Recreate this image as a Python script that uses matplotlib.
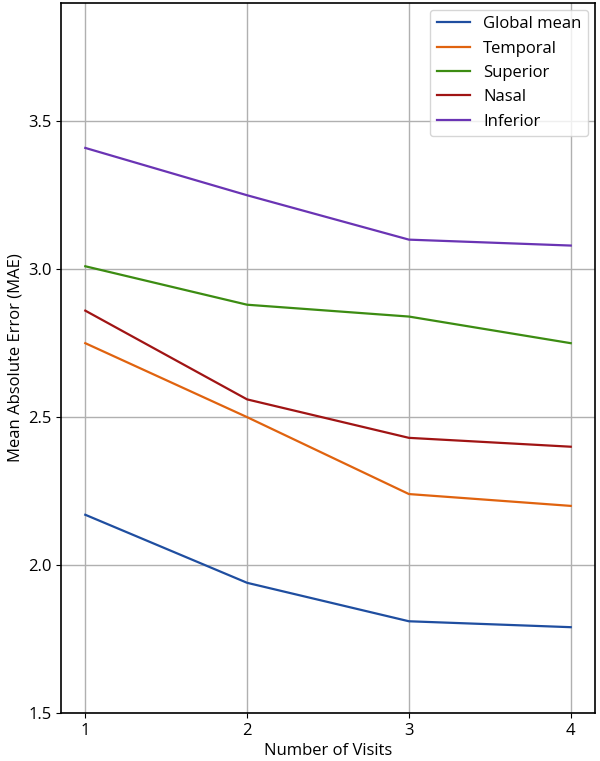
import matplotlib
matplotlib.use("Agg")
import matplotlib.pyplot as plt

plt.rcParams['font.family'] = ['Open Sans', 'DejaVu Sans']

visits = [1, 2, 3, 4]
global_mean = [2.17, 1.94, 1.81, 1.79]
temporal = [2.75, 2.50, 2.24, 2.20]
superior = [3.01, 2.88, 2.84, 2.75]
nasal = [2.86, 2.56, 2.43, 2.40]
inferior = [3.41, 3.25, 3.10, 3.08]

series_names = ["Global mean", "Temporal", "Superior", "Nasal", "Inferior"]
series_vals = [global_mean, temporal, superior, nasal, inferior]
colors = ["#1f4ea0", "#e0630f", "#3c8c12", "#a01414", "#6a34b4"]

fig = plt.figure(figsize=(6.0, 7.61), dpi=100)
ax = fig.add_axes([0.1017, 0.0631, 0.89, 0.933])

for name, vals, c in zip(series_names, series_vals, colors):
    ax.plot(visits, vals, color=c, lw=1.6, label=name)

ax.set_ylim(1.5, 3.9)
ax.set_xlim(0.85, 4.15)
ax.set_xticks(visits)
ax.set_yticks([1.5, 2.0, 2.5, 3.0, 3.5])
ax.set_yticklabels(["1.5", "2.0", "2.5", "3.0", "3.5"])
ax.grid(True, color="#b0b0b0", lw=1.0)
ax.set_axisbelow(True)
ax.tick_params(labelsize=12)
ax.set_xlabel("Number of Visits", fontsize=12, labelpad=3)
ax.set_ylabel("Mean Absolute Error (MAE)", fontsize=12, labelpad=3)
for s in ax.spines.values():
    s.set_linewidth(1.2)
ax.legend(loc="upper right", fontsize=12, framealpha=0.8, borderaxespad=0.4,
          handlelength=2.0)

fig.savefig("out.png", dpi=100)
